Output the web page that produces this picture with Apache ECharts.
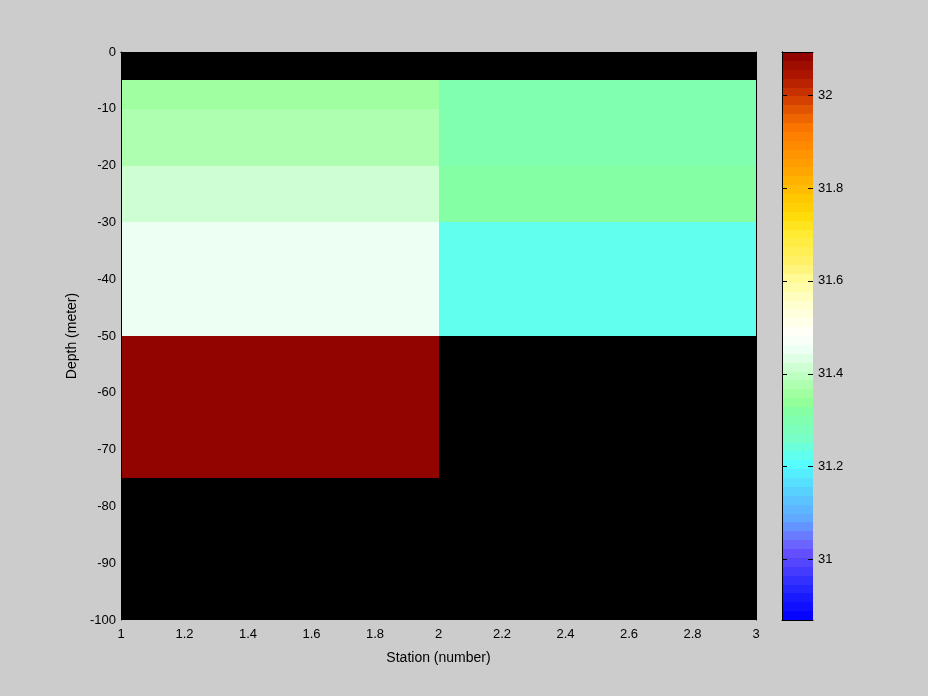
<!DOCTYPE html>
<html>
<head>
<meta charset="utf-8">
<script src="https://cdn.jsdelivr.net/npm/echarts@6/dist/echarts.min.js"></script>
<style>
html,body{margin:0;padding:0;background:#cccccc;}
#chart{width:928px;height:696px;}
</style>
</head>
<body>
<div id="chart"></div>
<script>
// ---- data ----
const stationEdges = [1, 2, 3];
const depthEdges = [0, -5, -10, -20, -30, -50, -75, -100];
const station1Salinity = [null, 31.356, 31.371, 31.414, 31.448, 32.075, null];
const station2Salinity = [null, 31.29, 31.29, 31.32, 31.224, null, null];
const xTickInterval = 0.2;
const yTickInterval = 10;
const colorbarTicks = [31, 31.2, 31.4, 31.6, 31.8, 32];
const colorMin = 30.869;
const colorMax = 32.093;
const colorLevels = 64;

// ---- colormap (style) ----
const cmapStops = [
  [0, '#0000ff'], [0.03, '#1414ff'], [0.058, '#2828ff'], [0.088, '#463cff'],
  [0.118, '#6450ff'], [0.14, '#6e6eff'], [0.158, '#648cff'], [0.18, '#5faaff'],
  [0.217, '#5ac8ff'], [0.25, '#55e6ff'], [0.275, '#55ffff'], [0.32, '#78ffc8'],
  [0.364, '#82ffa5'], [0.387, '#96ff96'], [0.41, '#aaffaa'], [0.435, '#c3ffc8'],
  [0.458, '#dcffe1'], [0.48, '#f0fff5'], [0.505, '#fffffa'], [0.528, '#ffffe6'],
  [0.563, '#ffffc8'], [0.6, '#fffa96'], [0.634, '#fff064'], [0.68, '#ffeb32'],
  [0.71, '#ffdc0a'], [0.74, '#ffc800'], [0.77, '#ffb400'], [0.8, '#ffa000'],
  [0.833, '#ff8c00'], [0.857, '#ff7d00'], [0.875, '#f56e00'], [0.893, '#e65a00'],
  [0.91, '#d74600'], [0.928, '#c83200'], [0.963, '#aa1400'], [1, '#8c0000']
];
function hexToRgb(h){return [parseInt(h.substr(1,2),16),parseInt(h.substr(3,2),16),parseInt(h.substr(5,2),16)];}
function cmapAt(f){
  f = Math.max(0, Math.min(1, f));
  for (let i = 1; i < cmapStops.length; i++) {
    if (f <= cmapStops[i][0]) {
      const a = cmapStops[i-1], b = cmapStops[i];
      const t = (f - a[0]) / (b[0] - a[0]);
      const ca = hexToRgb(a[1]), cb = hexToRgb(b[1]);
      const c = ca.map((v, k) => Math.round(v + (cb[k] - v) * t));
      return 'rgb(' + c.join(',') + ')';
    }
  }
  return cmapStops[cmapStops.length-1][1];
}
function levelColor(i){ return cmapAt((i + 0.5) / colorLevels); }
function colorFor(v){
  if (v === null || v === undefined) return '#000000';
  let i = Math.floor((v - colorMin) / (colorMax - colorMin) * colorLevels);
  i = Math.max(0, Math.min(colorLevels - 1, i));
  return levelColor(i);
}

// ---- build cells ----
const columns = [station1Salinity, station2Salinity];
const cells = [];
columns.forEach((col, j) => {
  col.forEach((v, i) => {
    cells.push({x0: stationEdges[j], x1: stationEdges[j+1], y0: depthEdges[i], y1: depthEdges[i+1], v: v});
  });
});
const cellData = cells.map(c => [c.x0, c.x1, c.y0, c.y1]);

const barData = [];
for (let i = 0; i < colorLevels; i++) {
  const lo = colorMin + (colorMax - colorMin) * i / colorLevels;
  const hi = colorMin + (colorMax - colorMin) * (i + 1) / colorLevels;
  barData.push([0, 1, lo, hi]);
}
const tickData = colorbarTicks.map(t => [t]);

const font = 'Liberation Sans';
const txt = {color: '#000', fontFamily: font, fontSize: 13};
const blackLine = {show: true, lineStyle: {color: '#000', width: 1}};

function rectItem(params, api, fill){
  const p0 = api.coord([api.value(0), api.value(2)]);
  const p1 = api.coord([api.value(1), api.value(3)]);
  const xa = Math.round(Math.min(p0[0], p1[0])), xb = Math.round(Math.max(p0[0], p1[0]));
  const ya = Math.round(Math.min(p0[1], p1[1])), yb = Math.round(Math.max(p0[1], p1[1]));
  return {type: 'rect', shape: {x: xa, y: ya, width: xb - xa, height: yb - ya},
          style: {fill: fill, stroke: null}};
}

const chart = echarts.init(document.getElementById('chart'), null, {renderer: 'canvas'});
chart.setOption({
  animation: false,
  backgroundColor: '#cccccc',
  grid: [
    {left: 121, top: 52, width: 635, height: 568},
    {left: 782, top: 52, width: 31, height: 568}
  ],
  xAxis: [
    {gridIndex: 0, type: 'value', min: 1, max: 3, interval: xTickInterval, position: 'bottom', z: 10,
     axisLine: blackLine, axisTick: {show: false}, splitLine: {show: false},
     axisLabel: Object.assign({margin: 8}, txt),
     name: 'Station (number)', nameLocation: 'middle', nameGap: 31,
     nameTextStyle: {color: '#000', fontFamily: font, fontSize: 14}},
    {gridIndex: 0, type: 'value', min: 1, max: 3, position: 'top', z: 10,
     axisLine: blackLine, axisTick: {show: false}, axisLabel: {show: false}, splitLine: {show: false}},
    {gridIndex: 1, type: 'value', min: 0, max: 1, position: 'bottom', z: 10,
     axisLine: blackLine, axisTick: {show: false}, axisLabel: {show: false}, splitLine: {show: false}},
    {gridIndex: 1, type: 'value', min: 0, max: 1, position: 'top', z: 10,
     axisLine: blackLine, axisTick: {show: false}, axisLabel: {show: false}, splitLine: {show: false}}
  ],
  yAxis: [
    {gridIndex: 0, type: 'value', min: -100, max: 0, interval: yTickInterval, position: 'left', z: 10,
     axisLine: blackLine, axisTick: {show: false}, splitLine: {show: false},
     axisLabel: Object.assign({margin: 5}, txt),
     name: 'Depth (meter)', nameLocation: 'middle', nameGap: 40, nameRotate: 90,
     nameTextStyle: {color: '#000', fontFamily: font, fontSize: 14}},
    {gridIndex: 0, type: 'value', min: -100, max: 0, position: 'right', z: 10,
     axisLine: blackLine, axisTick: {show: false}, axisLabel: {show: false}, splitLine: {show: false}},
    {gridIndex: 1, type: 'value', min: colorMin, max: colorMax, position: 'right', z: 10,
     axisLine: blackLine, splitLine: {show: false}, axisTick: {show: false},
     axisLabel: Object.assign({margin: 5, customValues: colorbarTicks}, txt)},
    {gridIndex: 1, type: 'value', min: colorMin, max: colorMax, position: 'left', z: 10,
     axisLine: blackLine, splitLine: {show: false}, axisTick: {show: false},
     axisLabel: {show: false}}
  ],
  series: [
    {type: 'custom', xAxisIndex: 0, yAxisIndex: 0, z: 2, data: cellData,
     renderItem: (params, api) => rectItem(params, api, colorFor(cells[params.dataIndex].v))},
    {type: 'custom', xAxisIndex: 2, yAxisIndex: 2, z: 2, data: barData,
     renderItem: (params, api) => rectItem(params, api, levelColor(params.dataIndex))},
    {type: 'custom', xAxisIndex: 2, yAxisIndex: 2, z: 20, data: tickData,
     encode: {y: 0},
     renderItem: (params, api) => {
       const pl = api.coord([0, api.value(0)]);
       const pr = api.coord([1, api.value(0)]);
       const y = Math.round(pl[1]) + 0.5;
       return {type: 'group', children: [
         {type: 'line', shape: {x1: pl[0], y1: y, x2: pl[0] + 5, y2: y}, style: {stroke: '#000', lineWidth: 1}},
         {type: 'line', shape: {x1: pr[0] - 5, y1: y, x2: pr[0], y2: y}, style: {stroke: '#000', lineWidth: 1}}
       ]};
     }}
  ]
});
</script>
</body>
</html>
